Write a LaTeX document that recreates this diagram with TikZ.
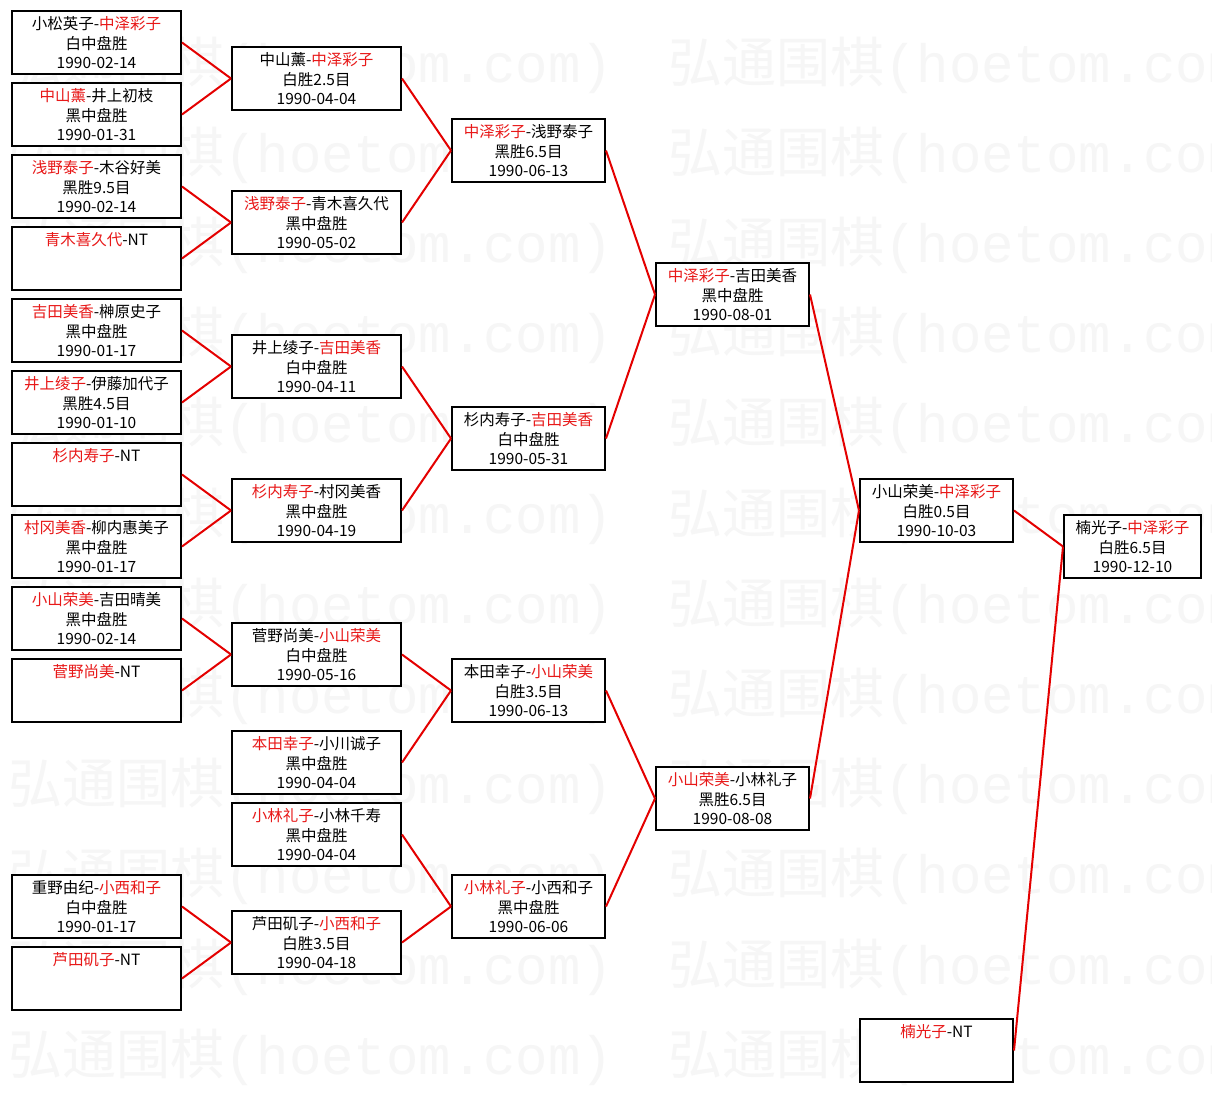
\documentclass[tikz,border=0pt]{standalone}
\usepackage{fontspec}
\setmainfont{Noto Sans CJK SC}
\newfontfamily\wmcjk{Noto Sans CJK SC}
\newfontfamily\wmmono{Liberation Mono}
\definecolor{rd}{RGB}{232,24,24}
\definecolor{ln}{RGB}{228,0,0}
\definecolor{wm}{RGB}{246,246,246}
\newcommand{\rt}[1]{\textcolor{rd}{#1}}
\newcommand{\gamebox}[7]{%
  \node[box, minimum width={#4pt-2pt}] (#1) at (#2,#3) {};
  \node[txt] (#1a) at ({#2+#4/2},{#3+19.5}) {#5};
  \node[txt] (#1b) at ({#2+#4/2},{#3+39}) {#6};
  \node[txt] (#1c) at ({#2+#4/2},{#3+58}) {#7};
}
\newcommand{\ntbox}[5]{%
  \node[box, minimum width={#4pt-2pt}] (#1) at (#2,#3) {};
  \node[txt] (#1a) at ({#2+#4/2},{#3+19.5}) {#5};
}
\begin{document}
\begin{tikzpicture}[x=1pt,y=-1pt,
  box/.style={draw=black, line width=2pt, fill=white, minimum height=63pt, inner sep=0pt, anchor=north west},
  txt/.style={anchor=base, inner sep=0pt, font=\fontsize{15.5}{18}\selectfont},
  wmk/.style={anchor=west, inner sep=0pt, text=wm},
  link/.style={draw=ln, line width=2pt}]
\fill[white] (0,0) rectangle (1212,1093);
\useasboundingbox (0,0) rectangle (1212,1093);
% watermark
\begin{scope}
\clip (0,0) rectangle (1212,1093);
\foreach \k in {0,...,11}{
  \node[wmk] (wmL\k) at (8,{65+90.2*\k}) {{\wmcjk\fontsize{54}{54}\selectfont 弘通围棋}{\wmmono\fontsize{54}{54}\selectfont (hoetom.com)}};
  \node[wmk] (wmR\k) at (668,{65+90.2*\k}) {{\wmcjk\fontsize{54}{54}\selectfont 弘通围棋}{\wmmono\fontsize{54}{54}\selectfont (hoetom.com)}};
}
\end{scope}
% column 1
\gamebox{A1}{11}{10}{171}{小松英子-\rt{中泽彩子}}{白中盘胜}{1990-02-14}
\gamebox{A2}{11}{82}{171}{\rt{中山薰}-井上初枝}{黑中盘胜}{1990-01-31}
\gamebox{A3}{11}{154}{171}{\rt{浅野泰子}-木谷好美}{黑胜9.5目}{1990-02-14}
\ntbox{A4}{11}{226}{171}{\rt{青木喜久代}-NT}
\gamebox{A5}{11}{298}{171}{\rt{吉田美香}-榊原史子}{黑中盘胜}{1990-01-17}
\gamebox{A6}{11}{370}{171}{\rt{井上绫子}-伊藤加代子}{黑胜4.5目}{1990-01-10}
\ntbox{A7}{11}{442}{171}{\rt{杉内寿子}-NT}
\gamebox{A8}{11}{514}{171}{\rt{村冈美香}-柳内惠美子}{黑中盘胜}{1990-01-17}
\gamebox{A9}{11}{586}{171}{\rt{小山荣美}-吉田晴美}{黑中盘胜}{1990-02-14}
\ntbox{A10}{11}{658}{171}{\rt{菅野尚美}-NT}
\gamebox{A11}{11}{874}{171}{重野由纪-\rt{小西和子}}{白中盘胜}{1990-01-17}
\ntbox{A12}{11}{946}{171}{\rt{芦田矶子}-NT}
% column 2
\gamebox{B1}{231}{46}{171}{中山薰-\rt{中泽彩子}}{白胜2.5目}{1990-04-04}
\gamebox{B2}{231}{190}{171}{\rt{浅野泰子}-青木喜久代}{黑中盘胜}{1990-05-02}
\gamebox{B3}{231}{334}{171}{井上绫子-\rt{吉田美香}}{白中盘胜}{1990-04-11}
\gamebox{B4}{231}{478}{171}{\rt{杉内寿子}-村冈美香}{黑中盘胜}{1990-04-19}
\gamebox{B5}{231}{622}{171}{菅野尚美-\rt{小山荣美}}{白中盘胜}{1990-05-16}
\gamebox{B6}{231}{730}{171}{\rt{本田幸子}-小川诚子}{黑中盘胜}{1990-04-04}
\gamebox{B7}{231}{802}{171}{\rt{小林礼子}-小林千寿}{黑中盘胜}{1990-04-04}
\gamebox{B8}{231}{910}{171}{芦田矶子-\rt{小西和子}}{白胜3.5目}{1990-04-18}
% column 3
\gamebox{C1}{451}{118}{155}{\rt{中泽彩子}-浅野泰子}{黑胜6.5目}{1990-06-13}
\gamebox{C2}{451}{406}{155}{杉内寿子-\rt{吉田美香}}{白中盘胜}{1990-05-31}
\gamebox{C3}{451}{658}{155}{本田幸子-\rt{小山荣美}}{白胜3.5目}{1990-06-13}
\gamebox{C4}{451}{874}{155}{\rt{小林礼子}-小西和子}{黑中盘胜}{1990-06-06}
% column 4
\gamebox{D1}{655}{262}{155}{\rt{中泽彩子}-吉田美香}{黑中盘胜}{1990-08-01}
\gamebox{D2}{655}{766}{155}{\rt{小山荣美}-小林礼子}{黑胜6.5目}{1990-08-08}
% column 5
\gamebox{E1}{859}{478}{155}{小山荣美-\rt{中泽彩子}}{白胜0.5目}{1990-10-03}
\ntbox{E2}{859}{1018}{155}{\rt{楠光子}-NT}
% column 6
\gamebox{F1}{1063}{514}{139}{楠光子-\rt{中泽彩子}}{白胜6.5目}{1990-12-10}
% links
\draw[link] (A1.east) -- (B1.west);
\draw[link] (A2.east) -- (B1.west);
\draw[link] (A3.east) -- (B2.west);
\draw[link] (A4.east) -- (B2.west);
\draw[link] (A5.east) -- (B3.west);
\draw[link] (A6.east) -- (B3.west);
\draw[link] (A7.east) -- (B4.west);
\draw[link] (A8.east) -- (B4.west);
\draw[link] (A9.east) -- (B5.west);
\draw[link] (A10.east) -- (B5.west);
\draw[link] (A11.east) -- (B8.west);
\draw[link] (A12.east) -- (B8.west);
\draw[link] (B1.east) -- (C1.west);
\draw[link] (B2.east) -- (C1.west);
\draw[link] (B3.east) -- (C2.west);
\draw[link] (B4.east) -- (C2.west);
\draw[link] (B5.east) -- (C3.west);
\draw[link] (B6.east) -- (C3.west);
\draw[link] (B7.east) -- (C4.west);
\draw[link] (B8.east) -- (C4.west);
\draw[link] (C1.east) -- (D1.west);
\draw[link] (C2.east) -- (D1.west);
\draw[link] (C3.east) -- (D2.west);
\draw[link] (C4.east) -- (D2.west);
\draw[link] (D1.east) -- (E1.west);
\draw[link] (D2.east) -- (E1.west);
\draw[link] (E1.east) -- (F1.west);
\draw[link] (E2.east) -- (F1.west);
\end{tikzpicture}
\end{document}
